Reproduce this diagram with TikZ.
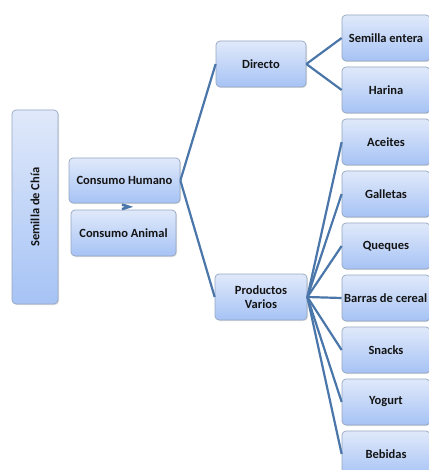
\documentclass[tikz,border=0pt]{standalone}
\usepackage{fontspec}
\setmainfont{Carlito}
\usetikzlibrary{shadows}

\definecolor{boxtop}{RGB}{224,233,250}
\definecolor{boxbot}{RGB}{166,195,245}
\definecolor{boxline}{RGB}{150,166,192}
\definecolor{linkblue}{RGB}{74,118,170}
\definecolor{txt}{RGB}{20,20,20}

\begin{document}
\begin{tikzpicture}[x=1pt, y=-1pt,
		box/.style={draw=boxline, line width=0.7pt, rounded corners=4pt,
			top color=boxtop, bottom color=boxbot, text=txt,
			font=\fontsize{12.5}{13.5}\selectfont\bfseries, align=center,
			inner sep=0pt, drop shadow={opacity=0.25, shadow xshift=1pt, shadow yshift=-1pt}},
		link/.style={draw=linkblue, line width=2.2pt}]
		\useasboundingbox (0,0) rectangle (428,470);
		% nivel 1
		\node[box, rotate=90, minimum width=194pt, minimum height=46pt] (chia) at (35,207) {Semilla de Chía};
		% nivel 2
		\node[box, minimum width=111pt, minimum height=45pt] (hum) at (124.5,180.5) {Consumo Humano};
		\node[box, minimum width=105pt, minimum height=46pt] (ani) at (123.5,233) {Consumo Animal};
		\draw[link, line width=2.6pt] (hum.south) ++(-2.5,1.2) -- ++(7,2.3) -- ++(-7,2.3);
		% nivel 3
		\node[box, minimum width=90pt, minimum height=46pt] (dir) at (261,64) {Directo};
		\node[box, minimum width=92pt, minimum height=46pt] (var) at (261,297) {Productos\\Varios};
		\draw[link] (hum.east) -- (dir.west);
		\draw[link] (hum.east) -- (var.west);
		% nivel 4
		\node[box, minimum width=88pt, minimum height=46pt] (sem) at (386,38) {Semilla entera};
		\node[box, minimum width=88pt, minimum height=46pt] (har) at (386,90) {Harina};
		\draw[link] (dir.east) -- (sem.west);
		\draw[link] (dir.east) -- (har.west);
		\foreach \name/\txt [count=\i] in {ace/Aceites, gal/Galletas, que/Queques, bar/{}, sna/Snacks, yog/Yogurt, beb/Bebidas} {
			\node[box, minimum width=88pt, minimum height=46pt] (\name) at (386,90+52*\i) {\txt};
			\draw[link] (var.east) -- (\name.west);
		}
		\node[text=txt, font=\fontsize{12.5}{13.5}\selectfont\bfseries, anchor=west, inner sep=0pt] (barlbl) at (344,298) {Barras de cereal};
	\end{tikzpicture}
\end{document}
